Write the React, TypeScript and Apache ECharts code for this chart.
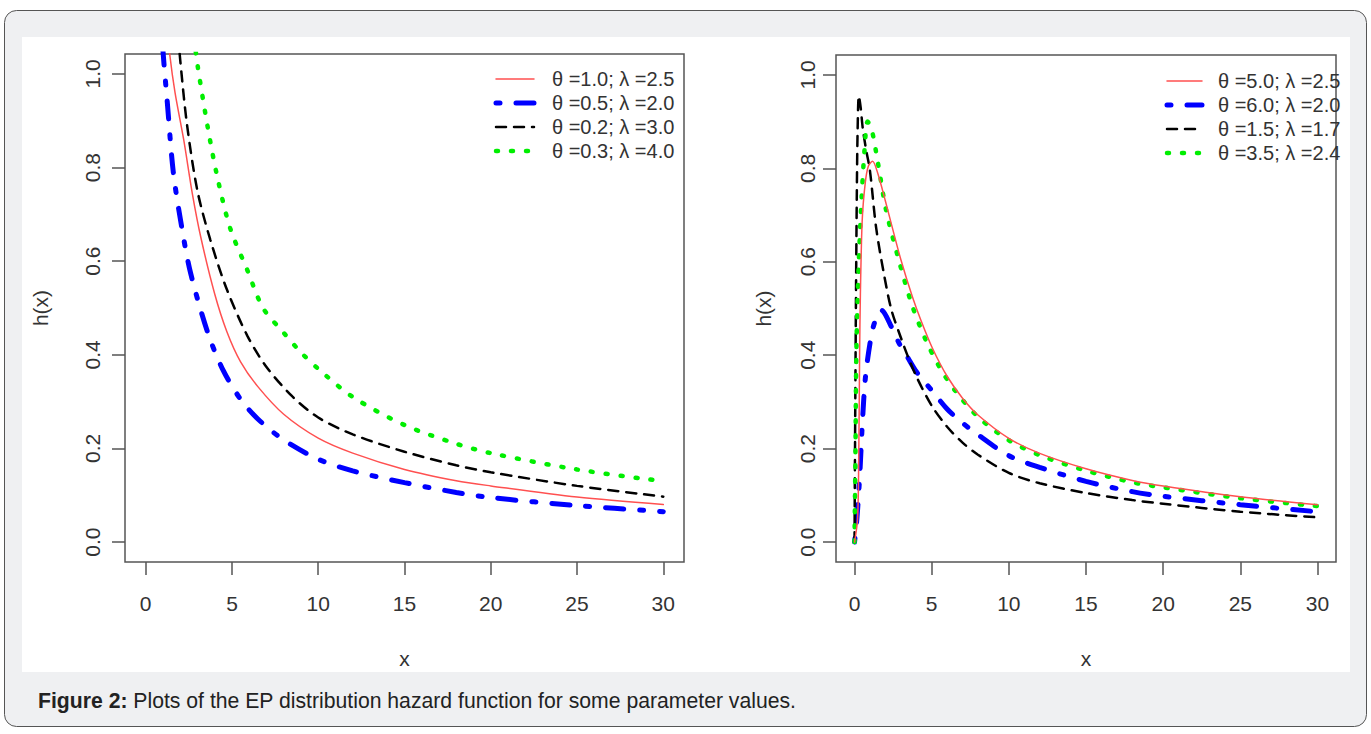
import React, { useEffect, useRef } from "react";
import * as echarts from "echarts";

// ---------- Left panel data ----------
const leftNames = ["θ =1.0; λ =2.5", "θ =0.5; λ =2.0", "θ =0.2; λ =3.0", "θ =0.3; λ =4.0"];
const lRedX = [1.2, 1.4, 1.7, 2.2, 2.7, 3.2, 4, 4.7, 5.5, 6.5, 8, 10, 12, 15, 18, 20, 25, 30];
const lRedY = [1.12, 1.04, 0.96, 0.86, 0.745, 0.65, 0.53, 0.45, 0.385, 0.332, 0.273, 0.222, 0.19, 0.155, 0.131, 0.12, 0.096, 0.08];
const lBlueX = [0.95, 1.0, 1.25, 1.6, 2.1, 2.6, 3.6, 4.5, 5.5, 6.5, 8, 10, 12, 15, 18, 20, 25, 30];
const lBlueY = [1.1, 1.05, 0.94, 0.79, 0.67, 0.575, 0.447, 0.366, 0.305, 0.263, 0.218, 0.177, 0.152, 0.127, 0.106, 0.095, 0.078, 0.065];
const lBlackX = [1.8, 2.0, 2.4, 3.0, 3.75, 4.7, 5.9, 7, 8.5, 10, 12, 15, 18, 20, 25, 30];
const lBlackY = [1.12, 1.03, 0.89, 0.75, 0.645, 0.54, 0.44, 0.374, 0.311, 0.266, 0.23, 0.193, 0.164, 0.149, 0.12, 0.097];
const lGreenX = [2.8, 3.0, 3.6, 4.15, 4.9, 5.9, 6.8, 8, 9, 10, 12, 15, 18, 20, 25, 30];
const lGreenY = [1.08, 1.02, 0.885, 0.78, 0.67, 0.58, 0.5, 0.447, 0.405, 0.37, 0.31, 0.25, 0.21, 0.19, 0.155, 0.13];

// ---------- Right panel data ----------
const rightNames = ["θ =5.0; λ =2.5", "θ =6.0; λ =2.0", "θ =1.5; λ =1.7", "θ =3.5; λ =2.4"];
const rRedX = [0, 0.2, 0.28, 0.33, 0.38, 0.5, 0.7, 0.9, 1.17, 1.5, 2.0, 2.45, 3.0, 3.75, 4.3, 5.05, 6, 7, 8, 10, 12, 15, 18, 20, 25, 30];
const rRedY = [0, 0.05, 0.2, 0.4, 0.53, 0.69, 0.77, 0.805, 0.815, 0.79, 0.73, 0.673, 0.605, 0.525, 0.475, 0.415, 0.355, 0.308, 0.272, 0.222, 0.19, 0.157, 0.132, 0.12, 0.097, 0.08];
const rBlueX = [0, 0.1, 0.2, 0.35, 0.5, 0.7, 1.0, 1.3, 1.75, 2.4, 2.9, 3.45, 4, 5, 6, 7, 8, 10, 12, 15, 18, 20, 25, 30];
const rBlueY = [0, 0.03, 0.07, 0.15, 0.25, 0.35, 0.425, 0.47, 0.496, 0.46, 0.425, 0.395, 0.365, 0.325, 0.285, 0.255, 0.23, 0.185, 0.16, 0.13, 0.108, 0.098, 0.08, 0.065];
const rBlackX = [0, 0.05, 0.1, 0.15, 0.2, 0.28, 0.4, 0.53, 0.75, 1.0, 1.4, 1.95, 2.4, 3.0, 3.45, 4, 5, 6, 7, 8, 10, 12, 15, 18, 20, 25, 30];
const rBlackY = [0, 0.3, 0.55, 0.75, 0.88, 0.955, 0.93, 0.887, 0.84, 0.795, 0.673, 0.566, 0.496, 0.438, 0.398, 0.355, 0.292, 0.247, 0.213, 0.187, 0.148, 0.126, 0.105, 0.09, 0.082, 0.065, 0.053];
const rGreenX = [0, 0.05, 0.13, 0.28, 0.45, 0.65, 0.85, 1.1, 1.5, 2.05, 2.9, 3.75, 4.65, 5.5, 6.5, 8, 10, 12, 15, 18, 20, 25, 30];
const rGreenY = [0, 0.15, 0.425, 0.6, 0.73, 0.84, 0.9, 0.885, 0.815, 0.71, 0.6, 0.505, 0.43, 0.375, 0.325, 0.268, 0.218, 0.186, 0.153, 0.128, 0.117, 0.094, 0.077];

// ---------- Axis ticks ----------
const xTicks = [0, 5, 10, 15, 20, 25, 30];
const yTicks = [0, 0.2, 0.4, 0.6, 0.8, 1.0];

const FONT = "'Liberation Sans', Arial, sans-serif";
const AXIS_COLOR = "#555";
const TEXT_COLOR = "#333";

const styles = [
  { color: "#ff5050", width: 1.5, dash: null as number[] | null },
  { color: "#0000ff", width: 5, dash: [4, 16, 18, 16] },
  { color: "#000000", width: 2.5, dash: [10, 8] },
  { color: "#00ee00", width: 4.5, dash: [2, 13] },
];

function pairs(xs: number[], ys: number[]) {
  return xs.map((x, i) => [x, ys[i]]);
}

export default function App() {
  const ref = useRef<HTMLDivElement>(null);
  useEffect(() => {
    document.body.style.margin = "0";
    const chart = echarts.init(ref.current!, null, { renderer: "svg" });

    const xAxisBase = (gi: number) => ({
      type: "value",
      gridIndex: gi,
      min: -1.2,
      max: 31.2,
      name: "x",
      nameLocation: "middle",
      nameGap: 86,
      nameTextStyle: { fontFamily: FONT, fontSize: 21, color: TEXT_COLOR },
      axisLine: { show: false, onZero: false },
      splitLine: { show: false },
      axisTick: { show: true, customValues: xTicks, length: 13, lineStyle: { color: AXIS_COLOR, width: 1.5 } },
      axisLabel: {
        show: true,
        customValues: xTicks,
        margin: 31,
        fontFamily: FONT,
        fontSize: 21,
        color: TEXT_COLOR,
        formatter: (v: number) => String(v),
      },
    });
    const yAxisBase = (gi: number, nameGap: number, margin: number) => ({
      type: "value",
      gridIndex: gi,
      min: -0.0426,
      max: 1.0426,
      name: "h(x)",
      nameLocation: "middle",
      nameRotate: 90,
      nameGap,
      nameTextStyle: { fontFamily: FONT, fontSize: 21, color: TEXT_COLOR },
      axisLine: { show: false, onZero: false },
      splitLine: { show: false },
      axisTick: { show: true, customValues: yTicks, length: 13, lineStyle: { color: AXIS_COLOR, width: 1.5 } },
      axisLabel: {
        show: true,
        customValues: yTicks,
        rotate: 90,
        margin,
        fontFamily: FONT,
        fontSize: 21,
        color: TEXT_COLOR,
        formatter: (v: number) => v.toFixed(1),
      },
    });

    const leftData = [pairs(lRedX, lRedY), pairs(lBlueX, lBlueY), pairs(lBlackX, lBlackY), pairs(lGreenX, lGreenY)];
    const rightData = [pairs(rRedX, rRedY), pairs(rBlueX, rBlueY), pairs(rBlackX, rBlackY), pairs(rGreenX, rGreenY)];

    const mkSeries = (names: string[], data: number[][][], gi: number) =>
      names.map((n, i) => ({
        type: "line",
        name: n,
        xAxisIndex: gi,
        yAxisIndex: gi,
        data: data[i],
        symbol: "none",
        smooth: 0.3,
        clip: true,
        z: i === 0 ? 5 : 3,
        lineStyle: {
          color: styles[i].color,
          width: styles[i].width,
          type: styles[i].dash ? styles[i].dash : "solid",
          cap: "round",
        },
        itemStyle: { color: styles[i].color },
      }));

    // legend drawn with graphic primitives (line samples + text), R-style
    const legendGraphics = (names: string[], x0: number, y0: number, sampleW: number, textGap: number) => {
      const out: any[] = [];
      names.forEach((n, i) => {
        const y = y0 + i * 24;
        out.push({
          type: "line",
          z: 20,
          silent: true,
          shape: { x1: x0, y1: y, x2: x0 + sampleW, y2: y },
          style: {
            stroke: styles[i].color,
            lineWidth: styles[i].width,
            lineDash: styles[i].dash ? styles[i].dash : null,
            lineCap: "round",
          },
        });
        out.push({
          type: "text",
          z: 20,
          silent: true,
          x: x0 + sampleW + textGap,
          y,
          style: { text: n, fontFamily: FONT, fontSize: 20, fill: TEXT_COLOR, verticalAlign: "middle" },
        });
      });
      return out;
    };

    chart.setOption({
      animation: false,
      grid: [
        { left: 125, top: 54, width: 559, height: 508, show: true, borderColor: AXIS_COLOR, borderWidth: 1.5, backgroundColor: "transparent" },
        { left: 836, top: 55, width: 500, height: 507, show: true, borderColor: AXIS_COLOR, borderWidth: 1.5, backgroundColor: "transparent" },
      ],
      xAxis: [xAxisBase(0), xAxisBase(1)],
      yAxis: [yAxisBase(0, 74, 22), yAxisBase(1, 62, 18)],
      series: [...mkSeries(leftNames, leftData, 0), ...mkSeries(rightNames, rightData, 1)],
      graphic: [
        {
          type: "rect",
          z: -10,
          silent: true,
          shape: { x: 4.5, y: 10.5, width: 1362, height: 716, r: 12 },
          style: { fill: "#eff0f2", stroke: "#555", lineWidth: 1 },
        },
        {
          type: "rect",
          z: -9,
          silent: true,
          shape: { x: 22, y: 37, width: 1328, height: 635 },
          style: { fill: "#ffffff" },
        },
        ...legendGraphics(leftNames, 496, 79, 38, 18),
        ...legendGraphics(rightNames, 1167, 81, 35, 16),
        {
          type: "text",
          z: 10,
          x: 38,
          y: 700,
          style: {
            text: "{b|Figure 2:} Plots of the EP distribution hazard function for some parameter values.",
            fontFamily: FONT,
            fontSize: 21.2,
            fill: "#222",
            verticalAlign: "middle",
            rich: { b: { fontWeight: "bold", fontSize: 21.2, fontFamily: FONT, fill: "#222" } },
          },
        },
      ],
    });
    return () => chart.dispose();
  }, []);
  return <div ref={ref} style={{ width: 1371, height: 734 }} />;
}
